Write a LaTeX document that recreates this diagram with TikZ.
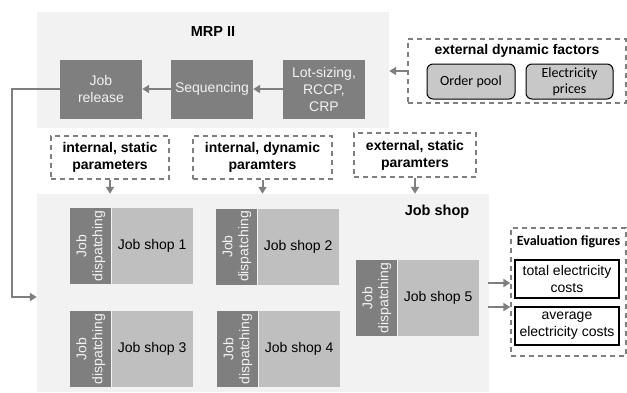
\documentclass[tikz,border=0pt]{standalone}
\usepackage{fontspec}
\setmainfont{Liberation Sans}
\newfontfamily\calib{Carlito}
\usetikzlibrary{arrows.meta}
\definecolor{dkgray}{HTML}{7F7F7F}
\definecolor{ltpanel}{HTML}{F2F2F2}
\definecolor{ltbox}{HTML}{BFBFBF}
\definecolor{pillfill}{HTML}{C8C8C8}
\tikzset{
  panel/.style={fill=ltpanel, draw=none, inner sep=0pt},
  darkbox/.style={fill=dkgray, draw=none, text=ltpanel, align=center, inner sep=0pt, font=\fontsize{14}{17}\selectfont},
  lightbox/.style={fill=ltbox, draw=none, text=black, align=center, inner sep=0pt, font=\fontsize{14}{17}\selectfont},
  dashbox/.style={draw=dkgray, line width=1.3pt, dash pattern=on 5pt off 4pt, align=center, inner sep=0pt, font=\bfseries\fontsize{14}{17}\selectfont},
  pill/.style={draw=black, line width=1pt, fill=pillfill, rounded corners=6pt, align=center, inner sep=0pt, font=\calib\fontsize{14}{16}\selectfont},
  evbox/.style={draw=black, line width=1.6pt, fill=white, align=center, inner sep=0pt, font=\fontsize{14}{17}\selectfont},
  arr/.style={draw=dkgray, line width=2pt, -{Triangle[width=8pt,length=7pt]}},
  title/.style={font=\bfseries\fontsize{14.5}{17}\selectfont, inner sep=0pt}
}
\begin{document}
\begin{tikzpicture}[x=1pt,y=-1pt]
\useasboundingbox (0,0) rectangle (627,392);
% panels
\node[panel, minimum width=352, minimum height=116] (mrp) at (213,70) {};
\node[title] (mrpt) at (213,32) {MRP II};
\node[panel, minimum width=452, minimum height=198] (jsp) at (263,293) {};
\node[title] (jspt) at (437,212) {Job shop};
% MRP boxes
\node[darkbox, minimum width=82, minimum height=59] (jr) at (101,89) {Job\\release};
\node[darkbox, minimum width=82, minimum height=59] (seq) at (212,89) {Sequencing};
\node[darkbox, minimum width=82, minimum height=59] (lot) at (324,89) {Lot-sizing,\\RCCP,\\CRP};
\draw[arr] (lot.west) -- (seq.east);
\draw[arr] (seq.west) -- (jr.east);
% external dynamic factors
\node[dashbox, minimum width=218, minimum height=64] (edf) at (517,71) {};
\node[title, font=\bfseries\fontsize{14}{17}\selectfont] (edft) at (517,51) {external dynamic factors};
\node[pill, minimum width=88, minimum height=35] (op) at (471,81.5) {Order pool};
\node[pill, minimum width=87, minimum height=35] (ep) at (569.5,81.5) {Electricity\\prices};
\draw[arr] (edf.west) -- (mrp.east |- edf.west);
% parameter boxes
\node[dashbox, minimum width=118, minimum height=43] (isp) at (110,157.5) {internal, static\\parameters};
\node[dashbox, minimum width=139, minimum height=43] (idp) at (262.5,157.5) {internal, dynamic\\paramters};
\node[dashbox, minimum width=122, minimum height=44] (esp) at (415,155) {external, static\\paramters};
\draw[arr] (isp.south) -- (isp.south |- jsp.north);
\draw[arr] (idp.south) -- (idp.south |- jsp.north);
\draw[arr] (esp.south) -- (esp.south |- jsp.north);
% job shops
\foreach \n/\x/\y in {1/70/246, 2/216/246.5, 3/70/349, 4/217/349, 5/356/298}{
  \node[darkbox, minimum width=41, minimum height=76, anchor=west] (jd\n) at (\x,\y) {};
  \node[rotate=90, text=ltpanel, align=center, inner sep=0pt, font=\fontsize{14}{16}\selectfont] (jdt\n) at (jd\n.center) {Job\\dispatching};
  \node[lightbox, minimum width=81, minimum height=76, anchor=west] (js\n) at (jd\n.east) {Job shop \n};
}
% job release connector
\coordinate (c1) at (12,89);
\coordinate (c2) at (12,297);
\draw[arr] (jr.west) -- (c1) -- (c2) -- (c2 -| jsp.west);
% evaluation
\node[dashbox, minimum width=115, minimum height=128] (ev) at (568.5,292) {};
\node[inner sep=0pt, font=\calib\bfseries\fontsize{14}{17}\selectfont] (evt) at (568.5,242) {Evaluation figures};
\node[evbox, minimum width=104, minimum height=38] (tot) at (567,279) {total electricity\\costs};
\node[evbox, minimum width=104, minimum height=38] (avg) at (567,326) {average\\electricity costs};
\coordinate (a1) at (488,283);
\coordinate (a2) at (488,307);
\draw[arr] (a1) -- (a1 -| ev.west);
\draw[arr] (a2) -- (a2 -| ev.west);
\end{tikzpicture}
\end{document}
